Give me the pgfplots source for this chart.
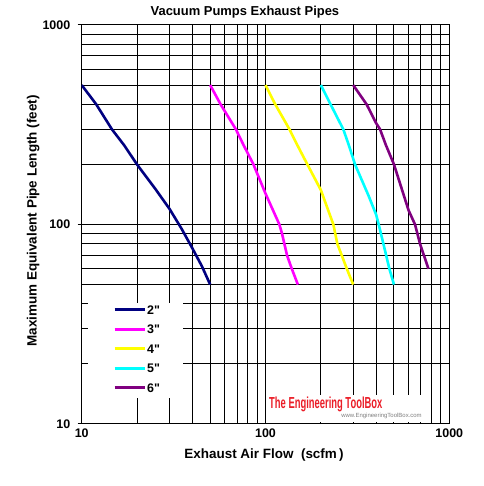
\documentclass[border=0pt]{standalone}
\usepackage{fontspec}
\setmainfont{Liberation Sans}[Ligatures=TeXOff]
\usepackage{pgfplots}
\pgfplotsset{compat=1.18}
\definecolor{c2}{RGB}{0,0,128}
\definecolor{c3}{RGB}{255,0,255}
\definecolor{c4}{RGB}{255,255,0}
\definecolor{c5}{RGB}{0,255,255}
\definecolor{c6}{RGB}{128,0,128}
\definecolor{etb}{RGB}{235,30,40}
\begin{document}
\begin{tikzpicture}
\begin{axis}[
  xmode=log, ymode=log,
  scale only axis, width=367.6bp, height=399bp,
  xmin=10, xmax=1000, ymin=10, ymax=1000,
  xtick={10,100,1000}, xticklabels={10,100,1000},
  ytick={10,100,1000}, yticklabels={10,100,1000},
  grid=both,
  major grid style={black, line width=1bp},
  minor grid style={black, line width=1bp},
  axis line style={black, line width=1bp},
  tick style={black, line width=1bp},
  xtick style={draw=none},
  major tick length=4bp, minor tick length=0pt,
  tick align=outside, tick pos=left,
  font=\bfseries\fontsize{12.5}{14}\selectfont,
  ticklabel style={font=\bfseries\fontsize{12.5}{14}\selectfont},
  xticklabel style={yshift=3bp},
  yticklabel style={xshift=-4bp},
  title={Vacuum Pumps Exhaust Pipes},
  title style={at={(rel axis cs:0.444,1)}, yshift=7bp, anchor=center, font=\bfseries\fontsize{13}{15}\selectfont},
  xlabel={Exhaust Air Flow\ \ (scfm\,)},
  every axis x label/.style={at={(rel axis cs:0.496,0)}, yshift=-31bp, anchor=center, font=\bfseries\fontsize{13.5}{15}\selectfont},
  ylabel={Maximum Equivalent Pipe Length (feet)},
  every axis y label/.style={at={(rel axis cs:0,0.509)}, xshift=-48.4bp, rotate=90, anchor=center, font=\bfseries\fontsize{13.5}{15}\selectfont},
  legend style={at={(rel axis cs:0.0851,0.188)}, anchor=west, draw=none, fill=none, inner sep=0pt,
    font=\bfseries\fontsize{12.5}{14}\selectfont, row sep=10.5bp,
    nodes={inner xsep=1bp, inner ysep=0pt, text height=9bp, text depth=0bp}},
  legend cell align=left,
  legend image code/.code={\draw[#1, line width=3bp] (0bp,0bp) -- (30bp,0bp);},
]
\coordinate (ll) at (rel axis cs:0,0);
\coordinate (ur) at (rel axis cs:1,1);
\fill[white] (rel axis cs:0.018,0.0644) rectangle (rel axis cs:0.2764,0.3025);
\fill[white] (rel axis cs:0.503,0.006) rectangle (rel axis cs:0.929,0.0727);
\node[text=etb, font=\bfseries\fontsize{16}{18}\selectfont, xscale=0.59] at (rel axis cs:0.664,0.050) {The Engineering ToolBox};
\node[text=gray, font=\fontsize{6}{7}\selectfont] at (rel axis cs:0.8156,0.02) {www.EngineeringToolBox.com};

\addplot[c2, line width=2.6bp] coordinates {
 (10,500) (12,400) (14.6,300) (17,250) (20,200) (25,152) (30,120) (35,95) (40,76) (45,62) (50,50)};
\addlegendentry{2"}
\addplot[c3, line width=2.6bp] coordinates {
 (50,500) (57,400) (69,300) (76,250) (86,200) (100,143) (119,100) (123,90) (131,70) (139,60) (150,50)};
\addlegendentry{3"}
\addplot[c4, line width=2.6bp] coordinates {
 (100,500) (113,400) (135,300) (149,250) (169,200) (200,149) (234,100) (246,80) (277,60) (300,50)};
\addlegendentry{4"}
\addplot[c5, line width=2.6bp] coordinates {
 (200,500) (226,400) (265,300) (284,250) (307,200) (363,140) (400,112) (413,100) (438,80) (472,60) (500,50)};
\addlegendentry{5"}
\addplot[c6, line width=2.6bp] coordinates {
 (300,500) (355,400) (400,322) (420,300) (452,250) (500,200) (600,118) (651,100) (693,80) (770,60)};
\addlegendentry{6"}
\end{axis}
\path ([shift={(-81.7bp,-62bp)}]ll) rectangle ([shift={(34.7bp,25bp)}]ur);
\end{tikzpicture}
\end{document}
